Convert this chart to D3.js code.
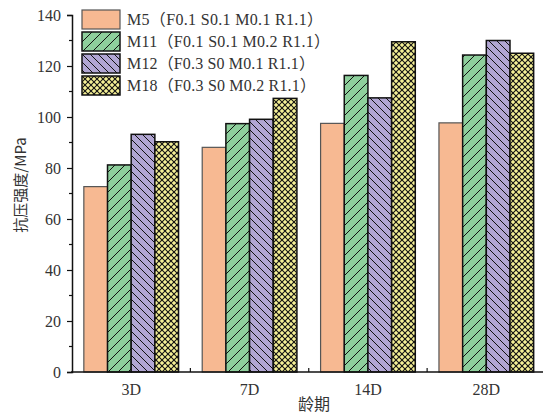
<!DOCTYPE html>
<html>
<head>
<meta charset="utf-8">
<script src="https://cdn.jsdelivr.net/npm/d3@7"></script>
<style>
  html, body { margin: 0; padding: 0; background: #fff; }
  svg { display: block; }
</style>
</head>
<body>
<svg id="chart"></svg>
<script>
// ─── 數據 ───
const categories = ['3D', '7D', '14D', '28D']
const seriesNames = [
  'M5（F0.1 S0.1 M0.1 R1.1）',
  'M11（F0.1 S0.1 M0.2 R1.1）',
  'M12（F0.3 S0 M0.1 R1.1）',
  'M18（F0.3 S0 M0.2 R1.1）',
]
const m5 = [72.7, 88.1, 97.5, 97.7]
const m11 = [81.2, 97.4, 116.3, 124.3]
const m12 = [93.2, 99.1, 107.5, 130.0]
const m18 = [90.3, 107.3, 129.5, 125.0]
const yTicks = [0, 20, 40, 60, 80, 100, 120, 140]
const yMinor = [10, 30, 50, 70, 90, 110, 130]

const width = 543, height = 417
const FONT_NUM = "'Liberation Serif', 'Noto Sans CJK SC', serif"
const FONT_CJK = "'Noto Sans CJK SC', sans-serif"

const svg = d3.select('#chart').attr('width', width).attr('height', height)

// ─── 填充圖樣 ───
const defs = svg.append('defs')
function hatch(id, bg, size, paths, sw) {
  const p = defs.append('pattern')
    .attr('id', id).attr('patternUnits', 'userSpaceOnUse')
    .attr('width', size).attr('height', size)
  p.append('rect').attr('width', size).attr('height', size).attr('fill', bg)
  paths.forEach(d => p.append('path').attr('d', d)
    .attr('stroke', '#111').attr('stroke-width', sw).attr('fill', 'none'))
}
hatch('p-m11', '#8ECF9C', 10, ['M-2,2 L2,-2', 'M0,10 L10,0', 'M8,12 L12,8'], 1)
hatch('p-m12', '#B1A6D3', 8, ['M-2,6 L2,10', 'M0,0 L8,8', 'M6,-2 L10,2'], 1)
hatch('p-m18', '#F5F096', 6, ['M0,0 L6,6', 'M0,6 L6,0'], 1.1)

const seriesStyle = [
  { fill: '#F7B992', stroke: '#555', sw: 1.2 },
  { fill: 'url(#p-m11)', stroke: '#111', sw: 1.5 },
  { fill: 'url(#p-m12)', stroke: '#111', sw: 1.5 },
  { fill: 'url(#p-m18)', stroke: '#111', sw: 1.5 },
]
const seriesData = [m5, m11, m12, m18]
// 圖例文字寬度（模仿參考圖的等寬字型）
const legendTextLen = [196, 203, 188, 189]

// ─── 比例尺 ───
const x0 = 72, x1 = 545.5
const xScale = d3.scaleBand().domain(categories).range([x0, x1])
  .paddingInner(0.2).paddingOuter(0.1)
const xSub = d3.scaleBand().domain(d3.range(4)).range([0, xScale.bandwidth()])
const yScale = d3.scaleLinear().domain([0, 140]).range([372, 15])

// ─── 柱 ───
const barG = svg.append('g')
categories.forEach((c, ci) => {
  seriesData.forEach((vals, si) => {
    const st = seriesStyle[si]
    barG.append('rect')
      .attr('x', xScale(c) + xSub(si))
      .attr('y', yScale(vals[ci]))
      .attr('width', xSub.bandwidth())
      .attr('height', yScale(0) - yScale(vals[ci]))
      .attr('fill', st.fill)
      .attr('stroke', st.stroke)
      .attr('stroke-width', st.sw)
  })
})

// ─── Y 軸 ───
const yAxisG = svg.append('g').attr('transform', `translate(${x0},0)`)
yAxisG.call(d3.axisLeft(yScale).tickValues(yTicks).tickSize(5).tickPadding(6))
  .call(g => g.select('.domain').attr('stroke', '#111').attr('stroke-width', 1.5))
  .call(g => g.selectAll('.tick line').attr('stroke', '#111').attr('stroke-width', 1.2))
  .call(g => g.selectAll('.tick text')
    .attr('fill', '#333').attr('font-size', '16px').attr('font-family', FONT_NUM))
yAxisG.selectAll('.minor').data(yMinor).join('line')
  .attr('x1', -3).attr('x2', 0)
  .attr('y1', d => yScale(d)).attr('y2', d => yScale(d))
  .attr('stroke', '#111').attr('stroke-width', 1.2)

// ─── X 軸 ───
const xAxisG = svg.append('g').attr('transform', `translate(0,${yScale(0)})`)
xAxisG.append('line')
  .attr('x1', x0 - 1).attr('x2', x1)
  .attr('stroke', '#111').attr('stroke-width', 1.5)
const step = xScale.step()
xAxisG.selectAll('.xtick').data(categories.slice(1)).join('line')
  .attr('x1', d => xScale(d) - step * 0.1).attr('x2', d => xScale(d) - step * 0.1)
  .attr('y1', 0).attr('y2', -4)
  .attr('stroke', '#111').attr('stroke-width', 1.2)
xAxisG.selectAll('.xlabel').data(categories).join('text')
  .attr('x', d => xScale(d) + xScale.bandwidth() / 2)
  .attr('y', 23)
  .attr('text-anchor', 'middle')
  .attr('font-size', '16px').attr('font-family', FONT_NUM).attr('fill', '#333')
  .text(d => d)

// ─── 軸標題 ───
svg.append('text')
  .attr('x', 314).attr('y', 410)
  .attr('text-anchor', 'middle')
  .attr('font-size', '16px').attr('font-family', FONT_CJK).attr('fill', '#333')
  .text('龄期')
svg.append('text')
  .attr('transform', 'translate(26,185) rotate(-90)')
  .attr('text-anchor', 'middle')
  .attr('font-size', '15px').attr('font-family', FONT_CJK).attr('fill', '#333')
  .text('抗压强度/MPa')

// ─── 圖例 ───
const legend = svg.append('g').attr('transform', 'translate(82,10)')
seriesNames.forEach((name, i) => {
  const st = seriesStyle[i]
  const item = legend.append('g').attr('transform', `translate(0,${i * 22})`)
  item.append('rect')
    .attr('width', 38).attr('height', 19)
    .attr('fill', st.fill).attr('stroke', st.stroke).attr('stroke-width', st.sw)
  item.append('text')
    .attr('x', 45).attr('y', 15)
    .attr('font-size', '16px').attr('font-family', FONT_NUM).attr('fill', '#333')
    .attr('textLength', legendTextLen[i]).attr('lengthAdjust', 'spacing')
    .text(name)
})
</script>
</body>
</html>
